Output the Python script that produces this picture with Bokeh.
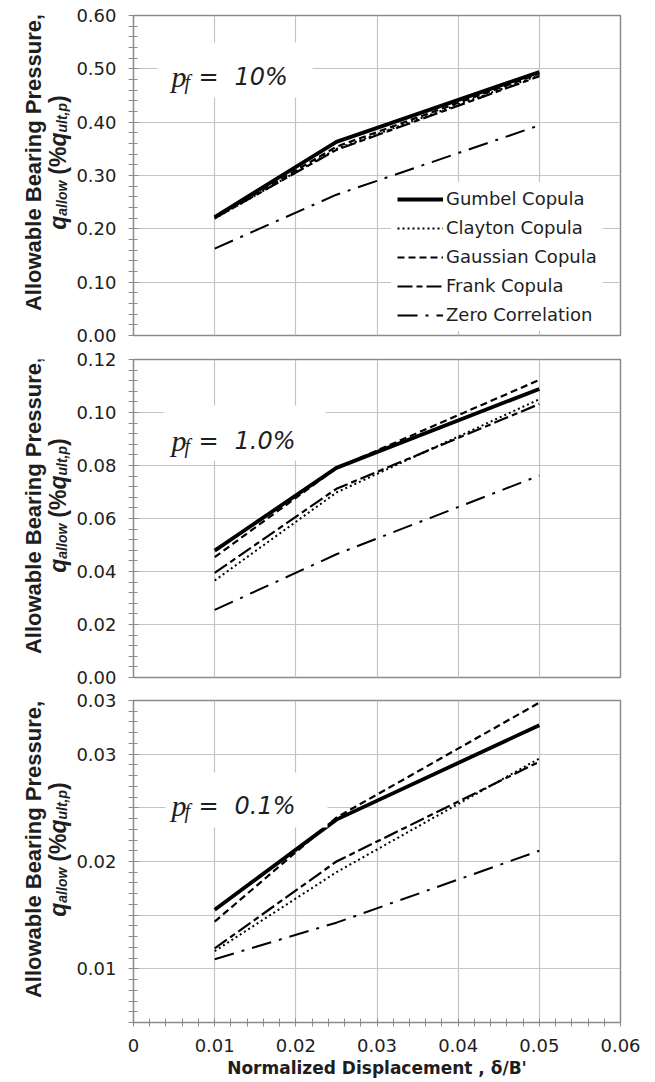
import math
from bokeh.plotting import figure
from bokeh.layouts import column, row
from bokeh.models import (FixedTicker, Label, Legend, LegendItem, BoxAnnotation, Range1d)
from bokeh.embed import file_html
from bokeh.resources import INLINE

# ---------------- data ----------------
x_disp = [0.01, 0.025, 0.05]
series_names = ["Gumbel Copula", "Clayton Copula", "Gaussian Copula", "Frank Copula", "Zero Correlation"]

# p_f = 10 %
gumbel_10 = [0.222, 0.363, 0.494]
clayton_10 = [0.219, 0.350, 0.488]
gaussian_10 = [0.221, 0.354, 0.491]
frank_10 = [0.220, 0.348, 0.486]
zero_10 = [0.163, 0.264, 0.394]

# p_f = 1.0 %
gumbel_1 = [0.0479, 0.0791, 0.1089]
clayton_1 = [0.0366, 0.0698, 0.1050]
gaussian_1 = [0.0454, 0.0790, 0.1123]
frank_1 = [0.0395, 0.0712, 0.1032]
zero_1 = [0.0255, 0.0465, 0.0762]

# p_f = 0.1 %
gumbel_01 = [0.0155, 0.0239, 0.0327]
clayton_01 = [0.01165, 0.0190, 0.0296]
gaussian_01 = [0.0144, 0.0241, 0.0348]
frank_01 = [0.0119, 0.0200, 0.0293]
zero_01 = [0.0109, 0.0143, 0.0210]

pf_labels = ["10%", "1.0%", "0.1%"]

x_ticks = [0.0, 0.01, 0.02, 0.03, 0.04, 0.05, 0.06]
x_tick_labels = ["0", "0.01", "0.02", "0.03", "0.04", "0.05", "0.06"]
x_title = "Normalized Displacement , \u03b4/B'"

y_ticks_10 = [0.0, 0.1, 0.2, 0.3, 0.4, 0.5, 0.6]
y_tick_labels_10 = ["0.00", "0.10", "0.20", "0.30", "0.40", "0.50", "0.60"]
y_ticks_1 = [0.0, 0.02, 0.04, 0.06, 0.08, 0.1, 0.12]
y_tick_labels_1 = ["0.00", "0.02", "0.04", "0.06", "0.08", "0.10", "0.12"]
y_ticks_01 = [0.005, 0.01, 0.015, 0.02, 0.025, 0.03, 0.035]
y_tick_labels_01 = ["", "0.01", "", "0.02", "", "0.03", "0.03"]

panels = [
    dict(series=[gumbel_10, clayton_10, gaussian_10, frank_10, zero_10], yr=(0.0, 0.6),
         ticks=y_ticks_10, labels=y_tick_labels_10, minor_n=5, pf=pf_labels[0]),
    dict(series=[gumbel_1, clayton_1, gaussian_1, frank_1, zero_1], yr=(0.0, 0.12),
         ticks=y_ticks_1, labels=y_tick_labels_1, minor_n=5, pf=pf_labels[1]),
    dict(series=[gumbel_01, clayton_01, gaussian_01, frank_01, zero_01], yr=(0.005, 0.035),
         ticks=y_ticks_01, labels=y_tick_labels_01, minor_n=5, pf=pf_labels[2]),
]

# ---------------- styling / layout ----------------
STYLES = [
    dict(line_width=3.8, line_dash="solid"),
    dict(line_width=2.0, line_dash="2 3"),
    dict(line_width=2.2, line_dash="7 4"),
    dict(line_width=2.2, line_dash="15 4 6 4"),
    dict(line_width=2.0, line_dash="20 8 3 8"),
]

TITLE_W = 72                 # strip on the left holding the y titles
FRAME_L, FRAME_W = 133, 487  # page x of the plot frame
XR = (0.0, 0.06)
TOPS = [15, 359, 700]
HEIGHTS = [320, 318, 322]
BTOP = [15, 12, 12]
BBOT = [12, 11, 60]
GRID = "#c3c3c3"
AXC = "#8a8a8a"
TXT = "#1e1e1e"
SANS = "DejaVu Sans"
ARIAL = "Liberation Sans"
SERIF = "Liberation Serif"


def minor_list(ticks, n):
    out = []
    for a, b in zip(ticks[:-1], ticks[1:]):
        for k in range(1, n):
            out.append(a + (b - a) * k / n)
    return out


def text_strip(w, h, bt=0, bb=0):
    """Blank figure; data units are pixels from the figure's top-left (y downward)."""
    f = figure(width=w, height=h, x_range=Range1d(0, w), y_range=Range1d(h - bb, bt),
               x_axis_type=None, y_axis_type=None, output_backend="svg",
               toolbar_location=None, min_border_left=0, min_border_right=0,
               min_border_top=bt, min_border_bottom=bb, outline_line_color=None,
               background_fill_color="white", border_fill_color="white")
    f.grid.visible = False
    return f


rows = []
for i, pan in enumerate(panels):
    y0, y1 = pan["yr"]
    top, h = TOPS[i], HEIGHTS[i]
    fig_h = BTOP[i] + h + BBOT[i]

    def to_x(X):
        return XR[0] + (X - FRAME_L) / FRAME_W * (XR[1] - XR[0])

    def to_y(Y, top=top, h=h, y0=y0, y1=y1):
        return y1 - (Y - top) / h * (y1 - y0)

    p = figure(frame_width=FRAME_W, frame_height=h,
               min_border_left=FRAME_L - TITLE_W, min_border_right=655 - FRAME_L - FRAME_W,
               min_border_top=BTOP[i], min_border_bottom=BBOT[i],
               x_range=Range1d(*XR), y_range=Range1d(y0, y1),
               output_backend="svg", toolbar_location=None,
               background_fill_color="white", border_fill_color="white",
               outline_line_color=AXC, outline_line_width=1.5)

    xt = FixedTicker(ticks=x_ticks, minor_ticks=minor_list(x_ticks, 5))
    yt = FixedTicker(ticks=pan["ticks"], minor_ticks=minor_list(pan["ticks"], pan["minor_n"]))
    p.xaxis.ticker = xt
    p.yaxis.ticker = yt
    p.xgrid.ticker = xt
    p.ygrid.ticker = yt
    p.xgrid.grid_line_color = GRID
    p.ygrid.grid_line_color = GRID
    p.xgrid.grid_line_width = 1.2
    p.ygrid.grid_line_width = 1.2

    p.yaxis.major_label_overrides = dict(zip(pan["ticks"], pan["labels"]))
    p.yaxis.axis_line_color = AXC
    p.yaxis.major_tick_line_color = AXC
    p.yaxis.minor_tick_line_color = AXC
    p.yaxis.major_tick_in = 5
    p.yaxis.major_tick_out = 5
    p.yaxis.minor_tick_in = 4
    p.yaxis.minor_tick_out = 5
    p.yaxis.major_label_standoff = 12
    p.yaxis.major_label_text_font = SANS
    p.yaxis.major_label_text_font_size = "18px"
    p.yaxis.major_label_text_color = TXT

    if i < 2:
        p.xaxis.visible = False
    else:
        p.xaxis.major_label_overrides = dict(zip(x_ticks, x_tick_labels))
        p.xaxis.axis_line_color = AXC
        p.xaxis.major_tick_line_color = AXC
        p.xaxis.minor_tick_line_color = AXC
        p.xaxis.major_tick_in = 4
        p.xaxis.major_tick_out = 4
        p.xaxis.minor_tick_in = 4
        p.xaxis.minor_tick_out = 4
        p.xaxis.major_label_standoff = 12
        p.xaxis.major_label_text_font = SANS
        p.xaxis.major_label_text_font_size = "18px"
        p.xaxis.major_label_text_color = TXT
        p.xaxis.axis_label = x_title
        p.xaxis.axis_label_standoff = 3
        p.xaxis.axis_label_text_font = SANS
        p.xaxis.axis_label_text_font_style = "bold"
        p.xaxis.axis_label_text_font_size = "17px"
        p.xaxis.axis_label_text_color = TXT

    rends = []
    for vals, st in zip(pan["series"], STYLES):
        r = p.line(x_disp, vals, line_color="black", **st)
        rends.append(r)

    # white box behind the p_f label
    boxes = [(157, 312, 42, 97), (163, 325, 405, 460), (165, 327, 772, 827)]
    bl, br, bt, bb = boxes[i]
    p.add_layout(BoxAnnotation(left=to_x(bl), right=to_x(br), top=to_y(bt), bottom=to_y(bb),
                               fill_color="white", fill_alpha=1.0, line_alpha=0.0))

    base = [76, 440, 805][i]
    p.add_layout(Label(x=to_x(171), y=to_y(base), text="p", text_font=SERIF,
                       text_font_style="italic", text_font_size="30px", text_color=TXT,
                       text_baseline="alphabetic"))
    p.add_layout(Label(x=to_x(184), y=to_y(base + 5), text="f", text_font=SERIF,
                       text_font_style="italic", text_font_size="20px", text_color=TXT,
                       text_baseline="alphabetic"))
    p.add_layout(Label(x=to_x(198), y=to_y(base), text="=", text_font=SANS,
                       text_font_style="italic", text_font_size="24px", text_color=TXT,
                       text_baseline="alphabetic"))
    p.add_layout(Label(x=to_x(234), y=to_y(base), text=pan["pf"], text_font=SANS,
                       text_font_style="italic", text_font_size="24px", text_color=TXT,
                       text_baseline="alphabetic"))

    if i == 0:
        legend = Legend(items=[LegendItem(label=n, renderers=[r]) for n, r in zip(series_names, rends)],
                        location=(258, 4), label_text_font=SANS, label_text_font_size="18px",
                        label_text_color=TXT, glyph_width=46, glyph_height=20, label_height=20,
                        spacing=8, padding=6, margin=0, label_standoff=3,
                        border_line_alpha=0.0, background_fill_color="white",
                        background_fill_alpha=1.0)
        p.add_layout(legend)

    # ---- y-axis title strip (two rotated lines), frame aligned with the plot frame ----
    t = text_strip(TITLE_W, fig_h, BTOP[i], BBOT[i])
    yc = BTOP[i] + h / 2 - 13          # local pixel y of the title centre
    if i == 2:
        yc += 1
    t.add_layout(Label(x=33, y=yc, text="Allowable Bearing Pressure,",
                       text_font=ARIAL, text_font_style="bold", text_font_size="22px",
                       text_color=TXT, angle=math.pi / 2, text_align="center",
                       text_baseline="alphabetic"))
    M, S = 23, 14
    pieces = [("q", M, "bold italic", 0, 0.611 * M),
              ("allow", S, "bold italic", 4, 2.501 * S + 6),
              ("(%", M, "bold", 0, 1.222 * M),
              ("q", M, "bold italic", 0, 0.611 * M),
              ("ult,p", S, "bold italic", 4, 2.111 * S),
              (")", M, "bold", 0, 0.333 * M)]
    total = sum(pc[4] for pc in pieces)
    Ycur = yc + total / 2
    for txt, sz, sty, dx, w in pieces:
        t.add_layout(Label(x=57 + dx, y=Ycur, text=txt, text_font=ARIAL,
                           text_font_style=sty, text_font_size=f"{sz}px", text_color=TXT,
                           angle=math.pi / 2, text_align="left", text_baseline="alphabetic"))
        Ycur -= w

    rows.append(row(t, p, spacing=0))

layout = column(*rows, spacing=0)
open("out.html", "w").write(file_html(layout, INLINE))
